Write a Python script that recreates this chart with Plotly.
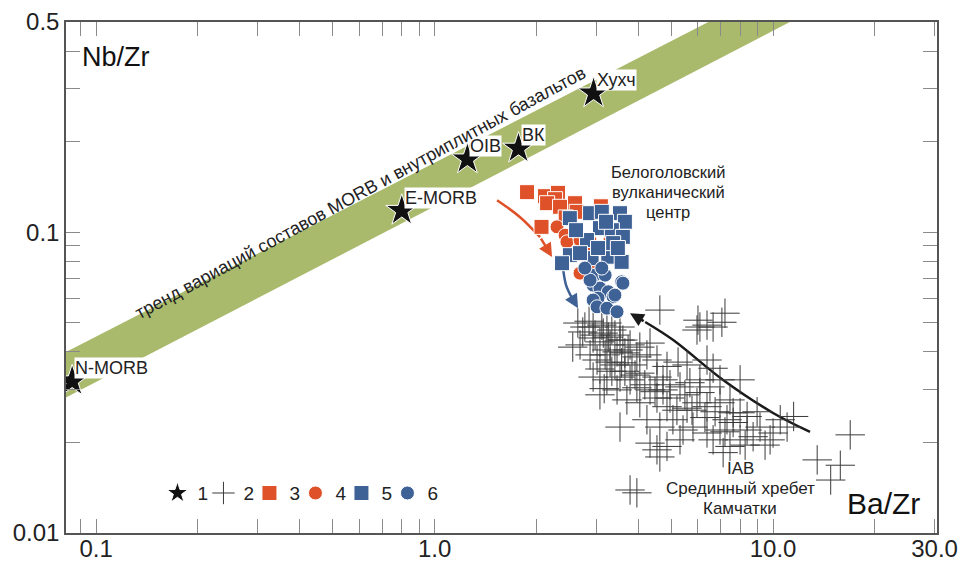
import math
import plotly.graph_objects as go

# ---------------- data ----------------
# reference compositions (1)
star_x = [0.085, 0.80, 1.25, 1.77, 2.95]
star_y = [0.032, 0.118, 0.175, 0.19, 0.29]
star_labels = ["N-MORB", "E-MORB", "OIB", "ВК", "Хухч"]

# IAB, Sredinny Range of Kamchatka (2)
iab_x = [4.63, 7.21, 7.06, 6.08, 6.38, 6.65, 5.96, 2.65, 2.78, 2.94, 3.12, 3.23, 3.34, 3.53,
         3.15, 3.26, 3.41, 3.08, 3.60, 2.56, 2.69, 2.94, 3.78, 4.04, 4.33, 3.23, 3.46, 3.65,
         3.96, 4.24, 3.02, 3.30, 3.57, 3.83, 4.54, 4.86, 5.24, 5.57, 6.38, 6.65, 2.94, 3.23,
         3.53, 3.78, 4.04, 4.54, 4.73, 4.96, 5.31, 5.68, 6.08, 6.51, 6.97, 7.99, 3.46, 3.96,
         4.33, 4.73, 3.08, 3.70, 4.04, 4.54, 4.86, 5.20, 5.57, 5.96, 6.38, 6.97, 7.46, 7.62,
         7.99, 8.38, 8.97, 7.31, 3.53, 4.24, 4.63, 5.06, 5.42, 5.80, 6.38, 6.97, 7.62, 8.38,
         9.15, 10.0, 9.80, 10.5, 11.0, 11.5, 6.65, 7.99, 8.73, 4.33, 4.54, 4.63, 7.46, 7.12,
         13.5, 15.8, 16.9, 14.8, 3.78, 3.96,
         2.98, 3.30, 3.19, 3.41, 3.65, 3.08, 2.88, 3.53, 3.73, 3.34, 3.17, 3.91, 4.18, 4.48,
         4.96, 5.49, 6.08, 5.76, 6.29, 6.74, 7.21, 8.27, 9.47, 5.31, 4.86, 2.74, 2.86, 6.0]
iab_y = [0.0551, 0.0538, 0.0502, 0.0484, 0.0491, 0.0484, 0.0473, 0.0499, 0.0484, 0.0484, 0.0491, 0.0499, 0.0473, 0.0484,
         0.0462, 0.0448, 0.0455, 0.0432, 0.0438, 0.0415, 0.0422, 0.0445, 0.0422, 0.0415, 0.0428, 0.0406, 0.0400, 0.0397,
         0.0385, 0.0391, 0.0376, 0.0370, 0.0368, 0.0362, 0.0376, 0.0358, 0.0370, 0.0362, 0.0376, 0.0353, 0.0330, 0.0323,
         0.0330, 0.0323, 0.0340, 0.0330, 0.0323, 0.0311, 0.0306, 0.0316, 0.0323, 0.0306, 0.0323, 0.0323, 0.0299, 0.0304,
         0.0299, 0.0299, 0.0288, 0.0277, 0.0271, 0.0281, 0.0263, 0.0256, 0.0260, 0.0271, 0.0263, 0.0271, 0.0277, 0.0251,
         0.0251, 0.0244, 0.0253, 0.0238, 0.0225, 0.0238, 0.0225, 0.0238, 0.0220, 0.0225, 0.0215, 0.0220, 0.0233, 0.0220,
         0.0225, 0.0215, 0.0204, 0.0238, 0.0225, 0.0244, 0.0204, 0.0204, 0.0209, 0.0199, 0.0189, 0.0179, 0.0194, 0.0185,
         0.0175, 0.0168, 0.0212, 0.0150, 0.0139, 0.0136,
         0.0455, 0.0422, 0.0391, 0.0362, 0.0345, 0.0351, 0.0391, 0.0438, 0.0406, 0.0345, 0.0302, 0.0335, 0.0311, 0.0295,
         0.0281, 0.0288, 0.0293, 0.0256, 0.0242, 0.0253, 0.0217, 0.0196, 0.0196, 0.0204, 0.0194, 0.0466, 0.0506, 0.0510]

# Belogolovsky volcanic centre (3-6)
os_x = [1.876, 2.12, 2.316, 2.27, 2.15, 2.348, 2.60, 2.63, 2.07, 3.10, 2.88, 2.71, 2.44]
os_y = [0.1359, 0.1318, 0.1352, 0.1288, 0.1249, 0.1215, 0.1249, 0.1169, 0.1042, 0.1220, 0.0829, 0.0942, 0.1120]

oc_x = [2.30, 2.43, 2.46, 2.69, 2.88, 2.55, 2.69, 2.98, 2.94, 3.30, 2.784]
oc_y = [0.1042, 0.0978, 0.0929, 0.0942, 0.0935, 0.0839, 0.0731, 0.0766, 0.0859, 0.0950, 0.0866]

bs_x = [2.51, 2.88, 3.12, 3.53, 3.65, 3.08, 2.82, 3.34, 3.60, 2.51, 2.38, 2.91, 3.26, 3.57,
        2.69, 3.37, 3.04, 2.618, 3.21, 3.48]
bs_y = [0.1114, 0.1157, 0.1169, 0.1157, 0.1083, 0.1032, 0.0942, 0.1016, 0.0965, 0.0839, 0.0789, 0.0820, 0.0829, 0.0797,
        0.0852, 0.0920, 0.0886, 0.1016, 0.1083, 0.0886]

bc_x = [2.98, 3.19, 2.94, 3.08, 3.26, 3.37, 3.04, 2.94, 3.02, 3.23, 3.46, 3.57, 3.12, 2.88, 3.60, 3.41, 2.78]
bc_y = [0.0720, 0.0720, 0.0667, 0.0652, 0.0634, 0.0610, 0.0604, 0.0595, 0.0565, 0.0559, 0.0544, 0.0684, 0.0760, 0.0693,
        0.0677, 0.0618, 0.0760]

# MORB - intraplate basalt trend band (corners)
band_x = [0.07, 7.59, 13.2, 0.07]
band_y = [0.0366, 0.55, 0.55, 0.0258]

# arrows (paths in data units, tail -> tip)
black_arrow_x = [12.86, 10.0, 7.12, 5.07, 4.19, 3.78]
black_arrow_y = [0.02167, 0.02506, 0.03226, 0.04381, 0.0503, 0.0538]
orange_arrow_x = [1.530, 1.789, 2.05, 2.224]
orange_arrow_y = [0.1278, 0.1122, 0.0963, 0.0827]
blue_arrow_x = [2.39, 2.446, 2.548, 2.654]
blue_arrow_y = [0.0777, 0.0667, 0.0604, 0.0559]

x_tickvals = [0.09, 0.1, 0.2, 0.3, 0.4, 0.5, 0.6, 0.7, 0.8, 0.9, 1, 2, 3, 4, 5, 6, 7, 8, 9, 10, 20, 30]
x_ticktext = ["", "0.1", "", "", "", "", "", "", "", "", "1.0", "", "", "", "", "", "", "", "", "10.0", "", "30.0"]
y_tickvals = [0.01, 0.02, 0.03, 0.04, 0.05, 0.06, 0.07, 0.08, 0.09, 0.1, 0.2, 0.3, 0.4, 0.5]
y_ticktext = ["0.01", "", "", "", "", "", "", "", "", "0.1", "", "", "", "0.5"]

ORANGE = "#df5128"
BLUE = "#3f6296"
GREEN = "#a9ba6c"
FONT = "Liberation Sans"

fig = go.Figure()

fig.add_trace(go.Scatter(x=band_x, y=band_y, mode="lines", fill="toself", fillcolor=GREEN,
                         line=dict(width=0, color=GREEN), showlegend=False, hoverinfo="skip"))

# arrow bodies (the last segment is drawn by an arrowhead annotation)
for axs, ays, col in [(black_arrow_x, black_arrow_y, "#1a1a1a"), (orange_arrow_x, orange_arrow_y, ORANGE),
                      (blue_arrow_x, blue_arrow_y, BLUE)]:
    fig.add_trace(go.Scatter(x=axs[:-1], y=ays[:-1], mode="lines",
                             line=dict(color=col, width=2.5, shape="spline"),
                             showlegend=False, hoverinfo="skip"))

fig.add_trace(go.Scatter(x=star_x, y=star_y, mode="markers", name="1",
                         marker=dict(symbol="star", size=24, color="#111111", line=dict(color="white", width=1))))
fig.add_trace(go.Scatter(x=iab_x, y=iab_y, mode="markers", name="2",
                         marker=dict(symbol="cross-thin", size=21, color="#3a3a3a", line=dict(color="#3a3a3a", width=1))))
fig.add_trace(go.Scatter(x=os_x, y=os_y, mode="markers", name="3",
                         marker=dict(symbol="square", size=15, color=ORANGE, line=dict(color="white", width=1))))
fig.add_trace(go.Scatter(x=oc_x, y=oc_y, mode="markers", name="4",
                         marker=dict(symbol="circle", size=14, color=ORANGE, line=dict(color="white", width=1))))
fig.add_trace(go.Scatter(x=bs_x, y=bs_y, mode="markers", name="5",
                         marker=dict(symbol="square", size=15, color=BLUE, line=dict(color="white", width=1))))
fig.add_trace(go.Scatter(x=bc_x, y=bc_y, mode="markers", name="6",
                         marker=dict(symbol="circle", size=14, color=BLUE, line=dict(color="white", width=1))))
# empty spacer entry so the last legend label is not clipped
fig.add_trace(go.Scatter(x=[None], y=[None], mode="markers", name=" ",
                         marker=dict(size=1, color="rgba(0,0,0,0)")))

L = math.log10
annotations = []
for sx, sy, lab in zip(star_x, star_y, star_labels):
    annotations.append(dict(x=L(sx), y=L(sy), text=lab, showarrow=False, xanchor="left", yanchor="middle",
                            xshift=2, yshift=13, bgcolor="white", borderpad=0,
                            font=dict(family=FONT, size=18, color="#222")))

# arrowheads
for axs, ays, col in [(black_arrow_x, black_arrow_y, "#1a1a1a"), (orange_arrow_x, orange_arrow_y, ORANGE),
                      (blue_arrow_x, blue_arrow_y, BLUE)]:
    annotations.append(dict(x=L(axs[-1]), y=L(ays[-1]), ax=L(axs[-2]), ay=L(ays[-2]), axref="x", ayref="y",
                            xref="x", yref="y", text="", showarrow=True, arrowhead=2, arrowsize=1.1,
                            arrowwidth=2.5, arrowcolor=col, standoff=0))

annotations.append(dict(x=L(0.6026), y=L(0.1349), text="тренд вариаций составов MORB и внутриплитных базальтов",
                        textangle=-28.5, showarrow=False, font=dict(family=FONT, size=18, color="#222")))

for i, line in enumerate(["Белоголовский", "вулканический", "центр"]):
    annotations.append(dict(x=L(4.9), y=L(0.1359), yshift=20 - 20 * i, text=line, showarrow=False,
                            font=dict(family=FONT, size=16.5, color="#222")))
for i, line in enumerate(["IAB", "Срединный хребет", "Камчатки"]):
    annotations.append(dict(x=L(7.99), y=L(0.0141), yshift=20 - 20 * i, text=line, showarrow=False,
                            font=dict(family=FONT, size=17, color="#222")))

annotations += [
    dict(xref="paper", yref="paper", x=0.016, y=0.932, text="Nb/Zr", showarrow=False, xanchor="left", yanchor="middle",
         font=dict(family=FONT, size=27, color="#111")),
    dict(xref="paper", yref="paper", x=0.983, y=0.057, text="Ba/Zr", showarrow=False, xanchor="right", yanchor="middle",
         font=dict(family=FONT, size=30, color="#111")),
]

axis_common = dict(type="log", showgrid=False, zeroline=False, ticks="inside", ticklen=14, tickwidth=1.3,
                   tickcolor="#8a8a8a", mirror="allticks", showline=True, linecolor="#555", linewidth=1.5,
                   automargin=False, tickfont=dict(family=FONT, size=24, color="#222"))

fig.update_layout(
    width=959, height=564,
    margin=dict(l=66, r=22, t=22, b=31),
    paper_bgcolor="white", plot_bgcolor="white",
    xaxis=dict(range=[L(0.0815), L(30.5)], tickvals=x_tickvals, ticktext=x_ticktext,
               ticklabelstandoff=-7, **axis_common),
    yaxis=dict(range=[L(0.01), L(0.5)], tickvals=y_tickvals, ticktext=y_ticktext, **axis_common),
    legend=dict(orientation="h", x=0.105, y=0.078, xanchor="left", yanchor="middle", bgcolor="rgba(0,0,0,0)",
                font=dict(family=FONT, size=19, color="#222"), entrywidth=1, entrywidthmode="pixels",
                itemsizing="trace"),
    annotations=annotations,
    showlegend=True,
)

fig.write_html("out.html", config={"displayModeBar": False},
               post_script="document.body.style.margin='0px';document.body.style.overflow='hidden';")
